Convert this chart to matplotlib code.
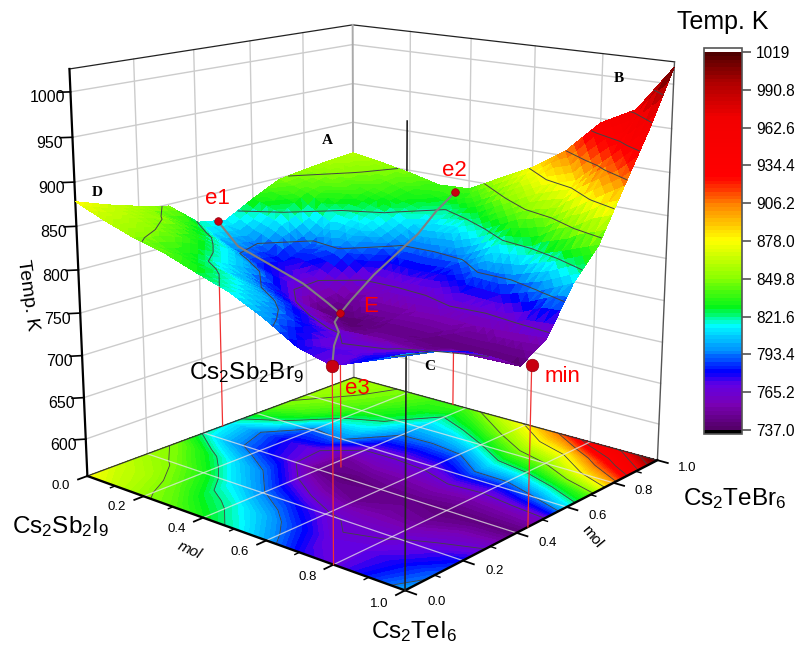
import numpy as np, matplotlib
matplotlib.use('Agg')
import matplotlib.pyplot as plt
from matplotlib.colors import LinearSegmentedColormap, BoundaryNorm
from matplotlib import tri as mtri

plt.rcParams['font.family'] = ['Liberation Sans', 'DejaVu Sans']
plt.rcParams['mathtext.fontset'] = 'custom'
plt.rcParams['mathtext.rm'] = 'Liberation Sans'
plt.rcParams['mathtext.it'] = 'Liberation Sans:italic'

x_vals = [0.0,0.1,0.2,0.3,0.4,0.5,0.6,0.7,0.8,0.9,1.0]
y_vals = [0.0,0.1,0.2,0.3,0.4,0.5,0.6,0.7,0.8,0.9,1.0]
temps = [
 [878,866,856,848,820,814,832,848,853,857,860],
 [864,858,848,830,800,795,820,838,846,851,854],
 [852,845,832,812,785,778,790,818,835,843,847],
 [843,827,812,795,772,768,795,812,825,832,838],
 [830,818,795,772,745,750,770,790,805,821,840],
 [818,803,782,755,740,755,768,788,808,832,860],
 [800,785,768,748,745,755,770,790,821,852,880],
 [778,768,762,752,745,757,782,810,840,872,906],
 [768,770,764,750,742,755,780,815,850,885,945],
 [783,778,770,758,742,757,792,828,875,920,966],
 [800,791,780,762,741,760,810,843,900,956,1019]]
z_ticks = [600,650,700,750,800,850,900,950,1000]
xy_ticks = [0.0,0.2,0.4,0.6,0.8,1.0]
xy_minor = [0.1,0.3,0.5,0.7,0.9]
cbar_ticks = [737.0,765.2,793.4,821.6,849.8,878.0,906.2,934.4,962.6,990.8,1019.0]
stop_vals = [737,754,769,779,794,814,827,851,878,903,920,927,970,996,1019]
stop_cols = ['#55006a','#7a00b4','#6200e4','#0000ff','#0088ff','#00ffff','#00f51a','#90ff00','#ffff00','#ff8c00','#ff2000','#ff0000','#f20000','#b00000','#500000']
points = {'e1':(0.0,0.47,815),'e2':(0.355,1.0,833),'E':(0.43,0.45,741),'e3':(0.8,0.0,768),'min':(1.0,0.444,737)}
ridge_e1 = [(0.0,0.47,815),(0.09,0.45,793),(0.31,0.45,766),(0.39,0.45,750),(0.43,0.45,741)]
ridge_e2 = [(0.355,1.0,833),(0.37,0.9,818),(0.39,0.8,800),(0.40,0.7,785),(0.41,0.6,770),(0.42,0.5,750),(0.43,0.45,741)]
ridge_e3 = [(0.43,0.45,741),(0.5,0.35,748),(0.6,0.25,757),(0.7,0.12,766),(0.8,0.0,768)]
zl, zh = 555, 1025

W,H = 798,647
fig = plt.figure(figsize=(W/100,H/100),dpi=100)
ax = fig.add_axes([15.99/W,14.7/H,700.3/W,700.3/H],projection='3d')
ax.set_xlim(0,1); ax.set_ylim(0,1); ax.set_zlim(zl,zh)
ax.view_init(15.29,-49.68)
ax.set_proj_type('persp',focal_length=0.487)
ax.set_box_aspect((1,0.988,0.996))
ax.set_axis_off(); ax.computed_zorder=False
ax.patch.set_alpha(0)

cmap = LinearSegmentedColormap.from_list('t',[((v-737)/282,c) for v,c in zip(stop_vals,stop_cols)],N=256)
cmap.set_under('black'); cmap.set_over('white')
levels = np.linspace(737,1019,101)
norm = BoundaryNorm(levels,256)
X,Y = np.meshgrid(x_vals,y_vals,indexing='ij'); Z = np.array(temps,float)

def line(pts,**k):
    a=np.array(pts,float); ax.plot(a[:,0],a[:,1],a[:,2],clip_on=False,**k)
# walls
for t in z_ticks:
    line([(0,0,t),(0,1,t),(1,1,t)],color='#cccccc',lw=1,zorder=1)
for t in xy_ticks[1:-1]:
    line([(0,t,zl),(0,t,zh)],color='#cccccc',lw=1,zorder=1)
    line([(t,1,zl),(t,1,zh)],color='#cccccc',lw=1,zorder=1)
line([(0,0,zh),(0,1,zh),(1,1,zh)],color='#222222',lw=0.9,zorder=1.5)
line([(0,1,zl),(0,1,zh)],color='#aaaaaa',lw=1.4,zorder=1.5)
line([(1,1,zl),(1,1,zh)],color='#555555',lw=1,zorder=1.5)
line([(0,0,zl),(0,0,zh)],color='black',lw=1.6,zorder=1.5)
# floor
ax.contourf(X,Y,Z,levels=levels,cmap=cmap,norm=norm,zdir='z',offset=zl,zorder=2,antialiased=False)
ax.contour(X,Y,Z,levels=cbar_ticks,colors='#444444',linewidths=0.6,zdir='z',offset=zl,zorder=2.1)
for t in xy_ticks[1:-1]:
    line([(t,0,zl),(t,1,zl)],color='#e8e8e8',lw=0.9,alpha=.75,zorder=2.2)
    line([(0,t,zl),(1,t,zl)],color='#e8e8e8',lw=0.9,alpha=.75,zorder=2.2)
line([(0,0,zl),(0,1,zl),(1,1,zl)],color='#333333',lw=0.9,zorder=2.3)
line([(0,0,zl),(1,0,zl),(1,1,zl)],color='black',lw=1.7,zorder=2.4)
line([(1,0,zl),(1,0,zh)],color='#222222',lw=1.2,zorder=2.5)
for n,c in points.items():
    line([(c[0],c[1],zl),c],color='#f03030',lw=0.9,zorder=2.6)
# surface
tr = mtri.Triangulation(X.ravel(),Y.ravel())
ref = mtri.UniformTriRefiner(tr)
tr2,z2 = ref.refine_field(Z.ravel(),subdiv=2,triinterpolator=mtri.LinearTriInterpolator(tr,Z.ravel()))
ax.plot_trisurf(tr2,z2,cmap=cmap,norm=norm,shade=False,linewidth=0,antialiased=False,zorder=3)
ax.contour(X,Y,Z,levels=cbar_ticks,colors='#444444',linewidths=0.7,zorder=3.2)
for r in (ridge_e1,ridge_e2,ridge_e3):
    line(r,color='#808080',lw=1.5,zorder=3.4)
for n,c in points.items():
    big = n in ('e3','min')
    ax.plot([c[0]],[c[1]],[c[2]],'o',ms=9 if big else 5.5,color='#c80010',mec='#900010',mew=.5,zorder=4,clip_on=False)
# ticks
for t in z_ticks:
    line([(0,0,t),(-0.018,-0.022,t)],color='black',lw=1.2,zorder=2)
    ax.text(-0.035,-0.04,t-6,str(t),ha='center',va='center',rotation=12,fontsize=11.5,zorder=5)
for t in xy_ticks:
    line([(t,0,zl),(t,-0.03,zl)],color='black',lw=1.3,zorder=2)
    line([(1,t,zl),(1.03,t,zl)],color='black',lw=1.3,zorder=2)
    ax.text(t,-0.085,zl,'%.1f'%t,ha='center',va='center',rotation=-24,fontsize=9.5,zorder=5)
    ax.text(1.085,t,zl,'%.1f'%t,ha='center',va='center',rotation=-20,fontsize=9.5,zorder=5)
for t in xy_minor:
    line([(t,0,zl),(t,-0.015,zl)],color='black',lw=1,zorder=2)
    line([(1,t,zl),(1.015,t,zl)],color='black',lw=1,zorder=2)
def ft(px,py,s,**k):
    fig.text(px/W,1-py/H,s,ha='center',va='center',**k)
for s,px,py in [('A',327,140),('B',619,79),('C',430,367),('D',97,193)]:
    ft(px,py,s,family='Liberation Serif',fontweight='bold',fontsize=11,zorder=6)
for s,px,py in [('e1',217,199),('e2',454,170),('E',371,307),('e3',357,388),('min',563,377)]:
    ft(px,py,s,color='#ff0000',fontsize=16,zorder=6)
for s,px,py in [('Cs$_2$Sb$_2$Br$_9$',247,373),('Cs$_2$Sb$_2$I$_9$',61,527),('Cs$_2$TeI$_6$',414,632),('Cs$_2$TeBr$_6$',735,499)]:
    ft(px,py,s,fontsize=17.5,zorder=6)
ft(27,295,'Temp. K',fontsize=14,rotation=-82)
ft(190,550,'mol',fontsize=11,rotation=-24,style='italic')
ft(592,537,'mol',fontsize=11,rotation=-50)
ft(723,22,'Temp. K',fontsize=18)
cax = fig.add_axes([704/W,1-434/H,38/W,386/H])
sm = matplotlib.cm.ScalarMappable(norm=norm,cmap=cmap)
cb = fig.colorbar(sm,cax=cax,extend='both',extendfrac=0.011,extendrect=True,spacing='proportional',ticks=cbar_ticks,drawedges=False)
cb.minorticks_off()
cb.ax.set_yticklabels(['%.1f'%t if t<1000 else '1019' for t in cbar_ticks],fontsize=11.2)
cb.ax.tick_params(length=6.5,width=1.1,color='#444444',pad=3.5)
cb.outline.set_edgecolor('#555555'); cb.outline.set_linewidth(1.2)
fig.savefig('out.png',dpi=100)
